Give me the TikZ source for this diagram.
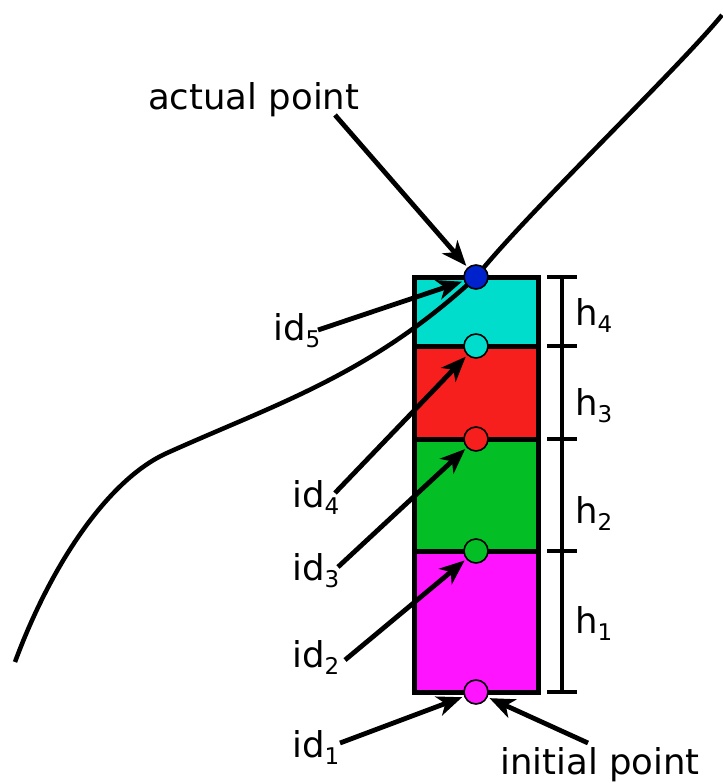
\documentclass[tikz,border=0pt]{standalone}
\usepackage{fontspec}
\setmainfont{DejaVu Sans}
\usetikzlibrary{arrows.meta}
\definecolor{cyanc}{RGB}{0,221,204}
\definecolor{redc}{RGB}{247,30,30}
\definecolor{greenc}{RGB}{3,190,36}
\definecolor{magc}{RGB}{255,20,255}
\definecolor{bluec}{RGB}{0,34,204}
\newcommand\subd[1]{\raisebox{-7.5pt}{\fontsize{23}{23}\selectfont #1}}
\tikzset{
  box/.style={draw=black, line width=5pt},
  dot/.style={circle, draw=black, line width=1.6pt, minimum size=24pt, inner sep=0pt},
  arr/.style={line width=4.8pt, -{Stealth[length=25pt, width=20pt, inset=7pt]}, shorten >=2pt},
  lab/.style={anchor=base west, inner sep=0pt, font=\fontsize{35.5}{40}\selectfont},
  brk/.style={line width=4pt},
  curve/.style={line width=4.5pt}
}
\begin{document}
\begin{tikzpicture}[x=1pt,y=-1pt]
\useasboundingbox (0,0) rectangle (722,783);
% boxes
\draw[box, fill=cyanc] (414,277) rectangle (538,346);
\draw[box, fill=redc] (414,346) rectangle (538,439);
\draw[box, fill=greenc] (414,439) rectangle (538,551);
\draw[box, fill=magc] (414,551) rectangle (538,692);
% curve
\draw[curve] (15,662) .. controls (50,567) and (107,480) .. (167,453)
  .. controls (277,403.5) and (370,375) .. (476,277)
  .. controls (526,214) and (677,70) .. (722,15);
% brackets
\draw[brk] (562,277) -- (562,692);
\foreach \yy in {277,346,439,551,692} \draw[brk] (547,\yy) -- (577,\yy);
% labels
\node[lab] (lact) at (148,110) {actual point};
\node[lab] (l5) at (273,340) {id\subd{5}};
\node[lab] (l4) at (292,507) {id\subd{4}};
\node[lab] (l3) at (292,580) {id\subd{3}};
\node[lab] (l2) at (292,667) {id\subd{2}};
\node[lab] (l1) at (292,757) {id\subd{1}};
\node[lab] (lini) at (500,774) {initial point};
\node[lab] (h4) at (575,325) {h\subd{4}};
\node[lab] (h3) at (575,415) {h\subd{3}};
\node[lab] (h2) at (575,523) {h\subd{2}};
\node[lab] (h1) at (575,633) {h\subd{1}};
% circles
\node[dot, fill=bluec] (p5) at (476,277) {};
\node[dot, fill=cyanc] (p4) at (476,346) {};
\node[dot, fill=redc] (p3) at (476,439) {};
\node[dot, fill=greenc] (p2) at (476,551) {};
\node[dot, fill=magc] (p1) at (476,692) {};
% arrow tails
\coordinate (t0) at (335,115);
\coordinate (t5) at (318,330);
\coordinate (t4) at (335,493);
\coordinate (t3) at (338,567);
\coordinate (t2) at (345,660);
\coordinate (t1) at (340,743);
\coordinate (ti) at (588,743);
\draw[arr] (t0) -- (p5);
\draw[arr] (t5) -- (p5);
\draw[arr] (t4) -- (p4);
\draw[arr] (t3) -- (p3);
\draw[arr] (t2) -- (p2);
\draw[arr] (t1) -- (p1);
\draw[arr] (ti) -- (p1);
\end{tikzpicture}
\end{document}
